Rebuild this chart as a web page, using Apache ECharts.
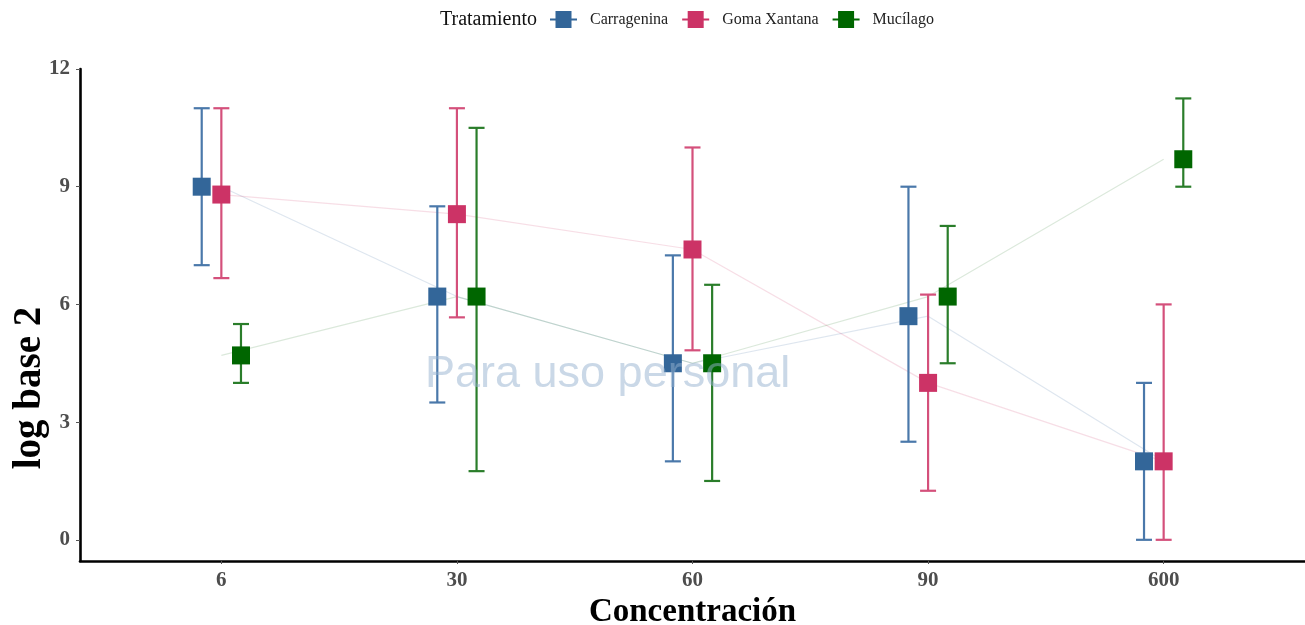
<!DOCTYPE html>
<html>
<head>
<meta charset="utf-8">
<script src="https://cdn.jsdelivr.net/npm/echarts@6/dist/echarts.min.js"></script>
<style>
  html, body { margin: 0; padding: 0; background: #fff; }
  #chart { width: 1305px; height: 625px; }
</style>
</head>
<body>
<div id="chart"></div>
<script>
// Concentration levels (x categories) and y tick values
const categories = ['6', '30', '60', '90', '600'];
const yTicks = [0, 3, 6, 9, 12];

// Carragenina: mean and interval bounds per concentration
const carrMean = [9, 6.2, 4.5, 5.7, 2];
const carrLow  = [7, 3.5, 2, 2.5, 0];
const carrHigh = [11, 8.5, 7.25, 9, 4];

// Goma Xantana
const gomaMean = [8.8, 8.3, 7.4, 4, 2];
const gomaLow  = [6.67, 5.67, 4.83, 1.25, 0];
const gomaHigh = [11, 11, 10, 6.25, 6];

// Mucílago
const mucMean = [4.7, 6.2, 4.5, 6.2, 9.7];
const mucLow  = [4, 1.75, 1.5, 4.5, 9];
const mucHigh = [5.5, 10.5, 6.5, 8, 11.25];

const groups = [
  { name: 'Carragenina', mean: carrMean, low: carrLow, high: carrHigh,
    fill: '#336699', bar: '#4a78aa', line: 'rgba(51,102,153,0.16)', off: -1 / 12 },
  { name: 'Goma Xantana', mean: gomaMean, low: gomaLow, high: gomaHigh,
    fill: '#cc3366', bar: '#d4507b', line: 'rgba(204,51,102,0.16)', off: 0 },
  { name: 'Mucílago', mean: mucMean, low: mucLow, high: mucHigh,
    fill: '#006600', bar: '#2a7d2a', line: 'rgba(0,102,0,0.14)', off: 1 / 12 }
];

const serif = '"Liberation Serif", "Times New Roman", serif';
const legendIcon = 'path://M0,7.5 H5.5 V0 H21.5 V7.5 H27 V9.5 H21.5 V17 H5.5 V9.5 H0 Z';

const series = [];
// faint connecting lines through the category centres
groups.forEach(g => {
  series.push({
    type: 'line', name: g.name,
    data: g.mean.map((v, i) => [i, v]),
    symbol: 'none', silent: true, z: 1,
    lineStyle: { color: g.line, width: 1.2 },
    itemStyle: { color: g.fill }
  });
});
// error bars with caps, dodged per group
groups.forEach(g => {
  series.push({
    type: 'custom', name: g.name, z: 2,
    data: g.mean.map((v, i) => [i + g.off, g.low[i], g.high[i]]),
    encode: { x: 0, y: [1, 2] },
    itemStyle: { color: g.fill },
    renderItem: function (params, api) {
      const x = api.value(0);
      const lo = api.coord([x, api.value(1)]);
      const hi = api.coord([x, api.value(2)]);
      const hw = 8;
      const style = { stroke: g.bar, lineWidth: 2.2, fill: null };
      return {
        type: 'group',
        children: [
          { type: 'line', shape: { x1: lo[0], y1: lo[1], x2: hi[0], y2: hi[1] }, style: style },
          { type: 'line', shape: { x1: lo[0] - hw, y1: lo[1], x2: lo[0] + hw, y2: lo[1] }, style: style },
          { type: 'line', shape: { x1: hi[0] - hw, y1: hi[1], x2: hi[0] + hw, y2: hi[1] }, style: style }
        ]
      };
    }
  });
});
// square markers at the means
groups.forEach(g => {
  series.push({
    type: 'scatter', name: g.name, z: 3,
    data: g.mean.map((v, i) => [i + g.off, v]),
    symbol: 'rect', symbolSize: 18,
    itemStyle: { color: g.fill, opacity: 1 }
  });
});

const chart = echarts.init(document.getElementById('chart'));
chart.setOption({
  animation: false,
  backgroundColor: '#ffffff',
  grid: { left: 80, right: 0, top: 69, bottom: 64, outerBoundsMode: 'none', containLabel: false },
  legend: {
    left: 545, top: 6,
    itemWidth: 27, itemHeight: 17, itemGap: 14,
    selectedMode: false,
    textStyle: { fontFamily: serif, fontSize: 16, color: '#222', padding: [0, 0, 0, 8] },
    data: groups.map(g => ({ name: g.name, icon: legendIcon, itemStyle: { color: g.fill } }))
  },
  graphic: [
    {
      type: 'text', left: 440, top: 10, z: 10,
      style: { text: 'Tratamiento', font: '20px ' + serif, fill: '#111' }
    },
    {
      type: 'text', x: 30, y: 388, rotation: Math.PI / 2, z: 10,
      style: { text: 'log base 2', font: 'bold 39px ' + serif, fill: '#000',
               align: 'center', verticalAlign: 'middle' }
    },
    {
      type: 'text', left: 425, top: 352, z: 100, silent: true,
      style: { text: 'Para uso personal', font: '45px "Liberation Sans", Arial, sans-serif',
               fill: 'rgba(150,178,208,0.5)' }
    }
  ],
  xAxis: {
    type: 'value', min: -0.6, max: 4.6,
    name: 'Concentración', nameLocation: 'middle', nameGap: 31,
    nameTextStyle: { fontFamily: serif, fontWeight: 'bold', fontSize: 33, color: '#000' },
    axisLine: { show: true, onZero: false, lineStyle: { color: '#000', width: 2.6 } },
    axisTick: { show: true, customValues: [0, 1, 2, 3, 4], length: 3, lineStyle: { color: '#555', width: 1 } },
    axisLabel: {
      customValues: [0, 1, 2, 3, 4],
      formatter: v => categories[Math.round(v)],
      fontFamily: serif, fontWeight: 'bold', fontSize: 21, color: '#4d4d4d', margin: 9
    },
    splitLine: { show: false }
  },
  yAxis: {
    type: 'value', min: -0.54, max: 12,
    axisLine: { show: true, onZero: false, lineStyle: { color: '#000', width: 2.6 } },
    axisTick: { show: true, customValues: yTicks, length: 4, lineStyle: { color: '#555', width: 1 } },
    axisLabel: {
      customValues: yTicks,
      fontFamily: serif, fontWeight: 'bold', fontSize: 21, color: '#4d4d4d', margin: 10
    },
    splitLine: { show: false }
  },
  series: series
});
</script>
</body>
</html>
